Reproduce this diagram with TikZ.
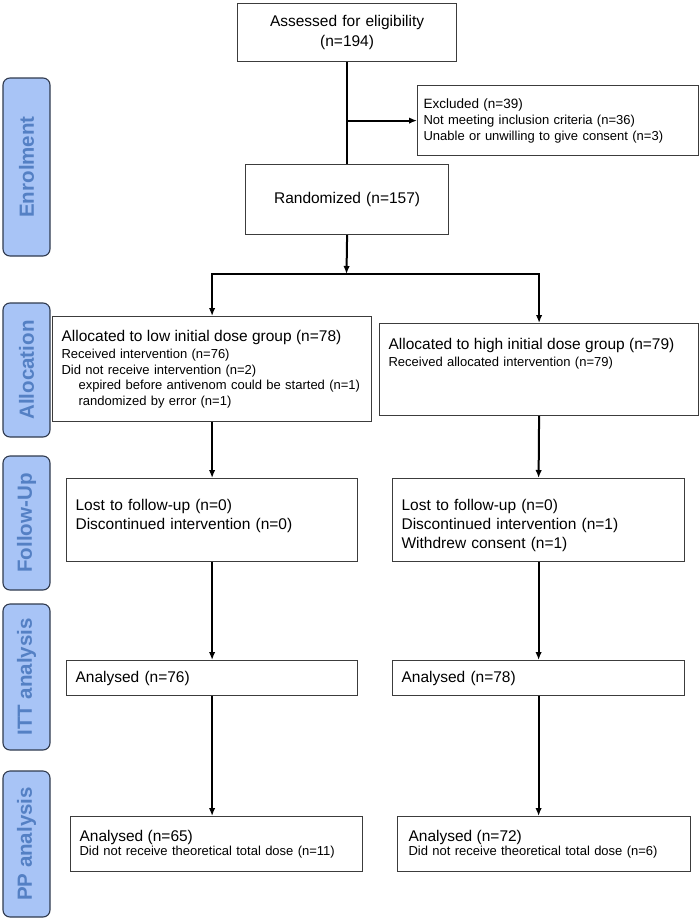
\documentclass[tikz,border=0pt]{standalone}
\usepackage{fontspec}
\setmainfont{Liberation Sans}
\usetikzlibrary{arrows.meta}
\definecolor{stagefill}{RGB}{168,196,246}
\definecolor{stagetext}{RGB}{84,128,196}
\definecolor{stageline}{RGB}{48,58,78}
\definecolor{boxline}{RGB}{60,60,60}
\newcommand{\bigtxt}{\fontsize{15.5}{19}\selectfont}
\newcommand{\smalltxt}{\fontsize{13}{15.5}\selectfont}

\begin{document}
\begin{tikzpicture}[x=1pt,y=-1pt,>={Latex[length=8pt,width=6.5pt]}]
  \tikzstyle{box}=[draw=boxline,line width=1.2pt,anchor=north west,inner xsep=9pt,align=left]
  \tikzstyle{stage}=[draw=stageline,line width=1.1pt,fill=stagefill,rounded corners=7pt,rotate=90,minimum height=47pt,text=stagetext,font=\fontsize{20.5}{24}\selectfont\bfseries]
  \tikzstyle{link}=[line width=2pt]
  \useasboundingbox (0,0) rectangle (700,919);

  \node[stage,minimum width=178pt] (S_enrol)  at (26.5,167) {Enrolment};
  \node[stage,minimum width=134pt] (S_alloc)  at (26.5,370) {Allocation};
  \node[stage,minimum width=134pt] (S_follow) at (26.5,523) {Follow-Up};
  \node[stage,minimum width=146pt] (S_itt)    at (26.5,677) {ITT analysis};
  \node[stage,minimum width=146pt] (S_pp)     at (26.5,844) {PP analysis};

  \node[box,align=center,minimum width=219pt,text width=201pt,minimum height=58pt,font=\fontsize{15.5}{20}\selectfont] (B_assess) at (237,3) {Assessed for eligibility\\(n=194)};
  \node[box,inner xsep=6pt,minimum width=281pt,text width=269pt,minimum height=70pt,font=\fontsize{13}{16}\selectfont] (B_excl) at (417,85)
    {{\fontsize{13.5}{16}\selectfont Excluded (n=39)}\\ Not meeting inclusion criteria (n=36)\\ Unable or unwilling to give consent (n=3)};
  \node[box,align=center,minimum width=203pt,text width=185pt,minimum height=70pt,font=\bigtxt] (B_rand) at (245,164) {Randomized (n=157)};
  \coordinate (C_split) at (346.5,274);

  \node[box,minimum width=319pt,text width=301pt,minimum height=105pt,font=\smalltxt] (B_alloc) at (52,316)
    {{\bigtxt Allocated to low initial dose group (n=78)}\\[1.5pt]
     Received intervention (n=76)\\
     Did not receive intervention (n=2)\\
     \hspace*{17pt}expired before antivenom could be started (n=1)\\
     \hspace*{17pt}randomized by error (n=1)};
  \node[box,inner ysep=4pt,text width=301pt,text height=22pt,text depth=62pt,font=\smalltxt] (B_alloc') at (379,323)
    {{\bigtxt Allocated to high initial dose group (n=79)}\\[1.5pt]
     Received allocated intervention (n=79)};

  \node[box,inner ysep=4pt,text width=273pt,text height=28pt,text depth=47pt,font=\bigtxt] (B_follow) at (66,478)
    {Lost to follow-up (n=0)\\ Discontinued intervention (n=0)};
  \node[box,inner ysep=4pt,text width=274pt,text height=28pt,text depth=47pt,font=\bigtxt] (B_follow') at (392,478)
    {Lost to follow-up (n=0)\\ Discontinued intervention (n=1)\\ Withdrew consent (n=1)};

  \node[box,minimum width=291pt,text width=273pt,minimum height=35pt,font=\bigtxt] (B_itt) at (66,660) {Analysed (n=76)};
  \node[box,minimum width=292pt,text width=274pt,minimum height=35pt,font=\bigtxt] (B_itt') at (392,660) {Analysed (n=78)};

  \node[box,minimum width=292pt,text width=274pt,minimum height=55pt,font=\fontsize{13}{14.5}\selectfont] (B_pp) at (70,816)
    {{\bigtxt Analysed (n=65)}\\ Did not receive theoretical total dose (n=11)};
  \node[box,inner xsep=11pt,minimum width=293pt,text width=271pt,minimum height=55pt,font=\fontsize{13}{14.5}\selectfont] (B_pp') at (397,816)
    {{\bigtxt Analysed (n=72)}\\ Did not receive theoretical total dose (n=6)};

  % enrolment
  \draw[link] (B_assess.south) -- (B_rand.north);
  \draw[link,->] (B_assess.south |- B_excl.west) -- (B_excl.west);
  \draw[link,->] (B_rand.south) -- (C_split);
  \draw[link,->] (C_split) -| (B_alloc.north);
  \draw[link,->] (C_split) -| (B_alloc'.north);

  % low dose arm
  \draw[link,->] (B_alloc.south) -- (B_follow.north);
  \draw[link,->] (B_follow.south) -- (B_itt.north);
  \draw[link,->] (B_itt.south) -- (B_itt.south |- B_pp.north);

  % high dose arm
  \draw[link,->] (B_alloc'.south) -- (B_follow'.north);
  \draw[link,->] (B_follow'.south) -- (B_itt'.north);
  \draw[link,->] (B_itt'.south) -- (B_itt'.south |- B_pp'.north);
\end{tikzpicture}
\end{document}
